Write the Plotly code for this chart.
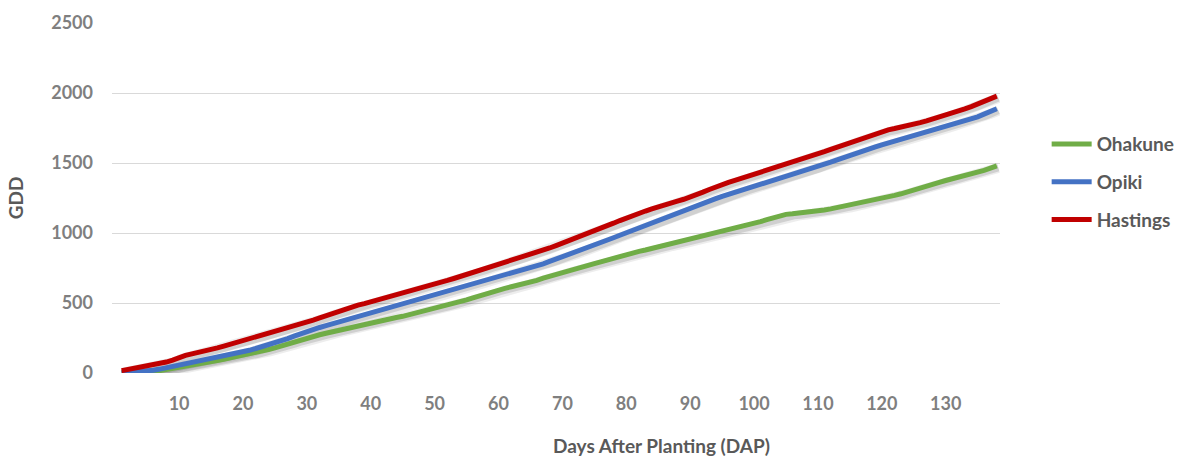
import plotly.graph_objects as go

days = list(range(1, 139))

ohakune = [0, 1, 2, 4, 6, 11, 17, 24, 32, 40,
           47, 55, 63, 72, 80, 89, 98, 107, 116, 125,
           135, 146, 157, 168, 180, 194, 208, 222, 237, 252,
           263, 273, 284, 295, 305, 316, 326, 337, 347, 358,
           367, 376, 386, 396, 405, 416, 428, 439, 450, 462,
           474, 486, 498, 510, 522, 536, 551, 566, 580, 595,
           605, 616, 626, 637, 648, 662, 677, 691, 706, 720,
           732, 744, 757, 769, 781, 794, 808, 821, 835, 848,
           858, 869, 879, 890, 900, 911, 921, 931, 942, 952,
           963, 974, 985, 996, 1007, 1019, 1031, 1043, 1055, 1067,
           1081, 1095, 1109, 1122, 1133, 1137, 1141, 1145, 1150, 1155,
           1164, 1172, 1181, 1190, 1198, 1207, 1215, 1224, 1233, 1245,
           1257, 1269, 1280, 1295, 1310, 1323, 1336, 1349, 1362, 1375,
           1386, 1398, 1409, 1421, 1432, 1447, 1463, 1479]

opiki = [2, 4, 7, 10, 14, 20, 28, 37, 45, 55,
         65, 74, 83, 91, 100, 110, 120, 130, 140, 150,
         162, 175, 188, 201, 215, 230, 246, 263, 280, 298,
         312, 325, 338, 351, 365, 378, 391, 403, 415, 428,
         440, 452, 464, 476, 488, 500, 513, 526, 539, 552,
         566, 580, 594, 607, 620, 634, 648, 662, 676, 690,
         701, 712, 724, 736, 748, 764, 780, 797, 813, 830,
         846, 862, 879, 895, 912, 930, 948, 966, 984, 1002,
         1020, 1037, 1055, 1072, 1090, 1108, 1125, 1143, 1160, 1178,
         1195, 1212, 1229, 1245, 1262, 1276, 1290, 1304, 1318, 1332,
         1345, 1359, 1372, 1386, 1400, 1414, 1428, 1443, 1457, 1472,
         1489, 1506, 1522, 1539, 1555, 1570, 1585, 1600, 1615, 1630,
         1643, 1656, 1669, 1682, 1695, 1708, 1722, 1735, 1749, 1762,
         1776, 1789, 1803, 1816, 1830, 1849, 1868, 1888]

hastings = [17, 25, 32, 38, 48, 57, 68, 78, 92, 113,
            126, 137, 146, 155, 167, 179, 192, 205, 221, 234,
            245, 256, 266, 278, 292, 305, 318, 332, 347, 362,
            378, 393, 409, 428, 445, 460, 473, 485, 496, 508,
            520, 533, 547, 560, 572, 583, 594, 606, 619, 632,
            646, 661, 675, 689, 703, 717, 732, 748, 764, 780,
            792, 804, 817, 830, 843, 859, 876, 893, 910, 927,
            944, 960, 977, 995, 1012, 1031, 1050, 1070, 1089, 1108,
            1124, 1140, 1157, 1172, 1188, 1201, 1214, 1228, 1241, 1255,
            1273, 1292, 1311, 1330, 1348, 1362, 1376, 1390, 1404, 1418,
            1432, 1446, 1461, 1475, 1490, 1505, 1520, 1535, 1550, 1565,
            1581, 1597, 1613, 1629, 1645, 1663, 1680, 1697, 1713, 1728,
            1737, 1746, 1755, 1765, 1775, 1788, 1801, 1814, 1827, 1840,
            1855, 1871, 1887, 1903, 1920, 1939, 1958, 1978]

series_names = ["Ohakune", "Opiki", "Hastings"]
series_values = [ohakune, opiki, hastings]
series_colors = ["#70AD47", "#4472C4", "#C00000"]

x_ticks = [10, 20, 30, 40, 50, 60, 70, 80, 90, 100, 110, 120, 130]
y_ticks = [0, 500, 1000, 1500, 2000, 2500]

FONT = "Lato"
fig = go.Figure()

# empty trace anchoring the base (visible) axes
fig.add_trace(go.Scatter(x=[], y=[], mode="lines", showlegend=False, hoverinfo="skip"))

# soft drop shadows (drawn on slightly shifted overlay axes, beneath the lines)
for w, a in [(10, 0.07), (7, 0.12)]:
    for vals in series_values:
        fig.add_trace(go.Scatter(x=days, y=vals, mode="lines", xaxis="x2", yaxis="y2",
                                 line=dict(color=f"rgba(0,0,0,{a})", width=w),
                                 showlegend=False, hoverinfo="skip"))

for name, vals, col in zip(series_names, series_values, series_colors):
    fig.add_trace(go.Scatter(x=days, y=vals, mode="lines", name=name,
                             legendgroup=name, xaxis="x3", yaxis="y3",
                             line=dict(color=col, width=5)))

xr = [-0.5, 138.5]
yr = [0, 2500]
fig.update_layout(
    width=1180, height=459,
    margin=dict(l=112, r=180, t=23, b=86, autoexpand=False),
    paper_bgcolor="white", plot_bgcolor="white",
    font=dict(family=FONT, color="#595959"),
    showlegend=True,
    legend=dict(xref="container", yref="container", x=0.887, y=0.603,
                xanchor="left", yanchor="middle",
                font=dict(family=FONT, size=19, color="#595959", weight="bold"),
                tracegroupgap=10, itemwidth=40, bgcolor="rgba(0,0,0,0)"),
    xaxis=dict(range=xr, tickvals=x_ticks, showgrid=False, zeroline=False,
               showline=False, ticks="", ticklabelstandoff=18,
               tickfont=dict(family=FONT, size=18, color="#7F7F7F", weight="bold")),
    yaxis=dict(range=yr, tickvals=y_ticks, showgrid=True, gridcolor="#D9D9D9",
               gridwidth=1.3, zeroline=False, showline=False, ticks="",
               ticklabelstandoff=18,
               tickfont=dict(family=FONT, size=18, color="#7F7F7F", weight="bold"),
               title=dict(text="GDD", standoff=22,
                          font=dict(family=FONT, size=19, color="#595959", weight="bold"))),
    xaxis2=dict(range=[xr[0] - 0.25, xr[1] - 0.25], overlaying="x", visible=False),
    yaxis2=dict(range=[yr[0] + 14, yr[1] + 14], overlaying="y", visible=False),
    xaxis3=dict(range=xr, overlaying="x", visible=False),
    yaxis3=dict(range=yr, overlaying="y", visible=False),
    annotations=[dict(text="Days After Planting (DAP)", xref="paper", yref="paper",
                      x=0.619, y=-0.208, xanchor="center", yanchor="middle",
                      showarrow=False,
                      font=dict(family=FONT, size=19, color="#595959", weight="bold"))],
)

fig.write_html("out.html")
